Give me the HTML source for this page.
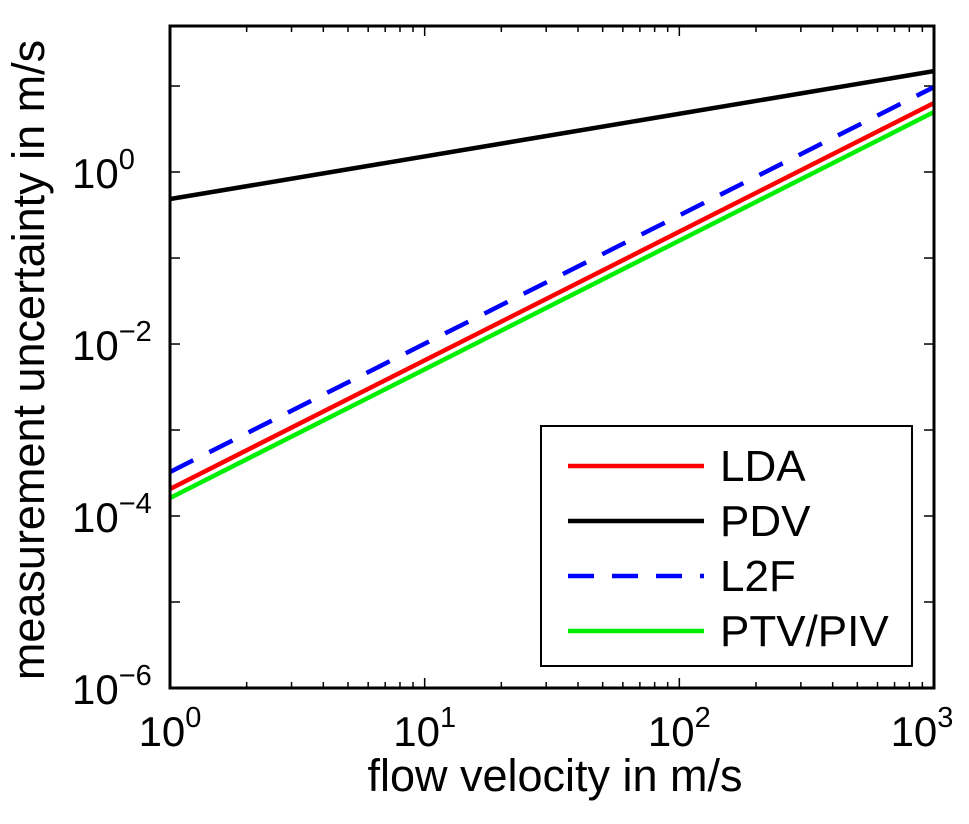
<!DOCTYPE html>
<html><head><meta charset="utf-8"><style>
body{margin:0;background:#fff;}
svg{display:block;font-family:"Liberation Sans",Arial,sans-serif;}
</style></head><body>
<svg id="chart" width="969" height="824"></svg>
<script>
const series = ["LDA","PDV","L2F","PTV/PIV"];
const colors = ["#ff0000","#000000","#0000ff","#00ee00"];
const xVals = [1, 1000];
const ldaVals = [2.06e-4, 6.35];
const pdvVals = [0.485, 14.9];
const l2fVals = [3.25e-4, 9.73];
const ptvVals = [1.62e-4, 4.99];
const xTickExps = [0,1,2,3];
const yTickExps = [0,-2,-4,-6];

const L=170,R=934,T=26,B=688;
const xLogMin=0,xLogMax=3,yLogMin=-6,yLogMax=1.698;
const sx=v=>L+(Math.log10(v)-xLogMin)/(xLogMax-xLogMin)*(R-L);
const sy=v=>B-(Math.log10(v)-yLogMin)/(yLogMax-yLogMin)*(B-T);
const svg=document.getElementById('chart');
const NS="http://www.w3.org/2000/svg";
function mk(t,a,p){const e=document.createElementNS(NS,t);for(const k in a)e.setAttribute(k,a[k]);(p||svg).appendChild(e);return e;}

const ticks=mk('g',{stroke:'#000','stroke-width':1.5});


for(let d=0;d<3;d++)for(let m=1;m<10;m++){const x=sx(m*Math.pow(10,d));const len=m===1?10:6;
 mk('line',{x1:x,x2:x,y1:B,y2:B-len},ticks);mk('line',{x1:x,x2:x,y1:T,y2:T+len},ticks);}
for(let d=-6;d<=1;d++){const y=sy(Math.pow(10,d));
 mk('line',{x1:L,x2:L+10,y1:y,y2:y},ticks);mk('line',{x1:R,x2:R-10,y1:y,y2:y},ticks);}

const data=[ldaVals,pdvVals,l2fVals,ptvVals];
const clip=mk('clipPath',{id:'pc'});mk('rect',{x:L,y:T,width:R-L,height:B-T},clip);
data.forEach((vals,i)=>{
 const ln=mk('line',{x1:sx(xVals[0]),y1:sy(vals[0]),x2:sx(xVals[1]),y2:sy(vals[1]),stroke:colors[i],'stroke-width':4.5,'clip-path':'url(#pc)'});
 if(i===2)ln.setAttribute('stroke-dasharray','26 18');
 
 
});
const fr=mk('rect',{x:L,y:T,width:R-L,height:B-T,fill:'none',stroke:'#000','stroke-width':3});



xTickExps.forEach(e=>{
 const t=mk('text',{x:sx(Math.pow(10,e))-(e===3?12:0),y:746,'font-size':42,'text-anchor':'middle'});
 
 
 t.innerHTML='10<tspan dy="-19" font-size="29">'+e+'</tspan>';
});
yTickExps.forEach(e=>{
 const t=mk('text',{x:72,y:sy(Math.pow(10,e))+16,'font-size':42});
 
 
 t.innerHTML='10<tspan dy="-19" font-size="29">'+(e===0?'0':'\u2212'+(-e))+'</tspan>';
});
const xt=mk('text',{x:555,y:791,'font-size':45,'text-anchor':'middle'});


xt.textContent='flow velocity in m/s';
const yt=mk('text',{x:0,y:0,'font-size':45,'text-anchor':'middle',transform:'translate(44,360) rotate(-90)'});


yt.textContent='measurement uncertainty in m/s';

const lg=mk('g',{});


mk('rect',{x:541,y:426,width:371,height:240,fill:'#fff',stroke:'#000','stroke-width':2},lg);
series.forEach((s,i)=>{
 const y=466+i*55;
 const en=mk('g',{},lg);
 
 
 const l=mk('line',{x1:568,x2:704,y1:y,y2:y,stroke:colors[i],'stroke-width':4.5},en);
 if(i===2)l.setAttribute('stroke-dasharray','26 18');
 const t=mk('text',{x:720,y:y+15,'font-size':44},en);
 t.textContent=s;
});
</script>
</body></html>
